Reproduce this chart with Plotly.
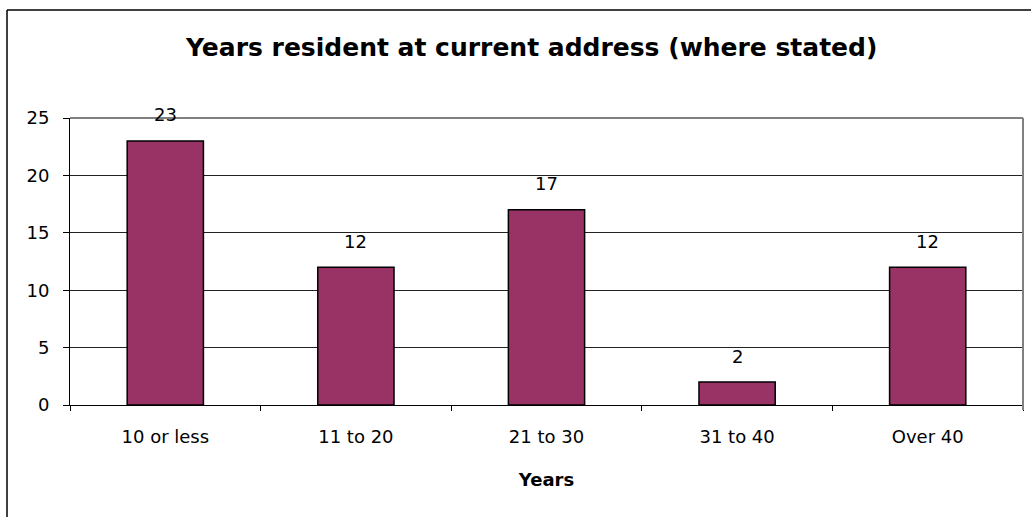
import plotly.graph_objects as go

categories = ["10 or less", "11 to 20", "21 to 30", "31 to 40", "Over 40"]
values = [23, 12, 17, 2, 12]
y_ticks = [0, 5, 10, 15, 20, 25]

W, H = 1031, 517
L, R, T, B = 70, 8, 118, 112
pw, ph = W - L - R, H - T - B

def px(x):
    return (x - L) / pw

def py(y):
    return (H - B - y) / ph

FONT = "DejaVu Sans, Arial, sans-serif"

fig = go.Figure(go.Bar(
    x=categories, y=values, width=0.4,
    marker=dict(color="#993366", line=dict(color="#000000", width=1.5)),
    hoverinfo="skip",
))

annotations = [
    dict(x=c, y=v, xref="x", yref="y", text=str(v), showarrow=False,
         yanchor="middle", yshift=26, font=dict(size=18, color="#000000", family=FONT))
    for c, v in zip(categories, values)
]
annotations.append(dict(x=px(531), y=py(47), xref="paper", yref="paper",
                        text="<b>Years resident at current address (where stated)</b>",
                        showarrow=False, xanchor="center", yanchor="middle",
                        font=dict(size=25, color="#000000", family=FONT)))

shapes = [
    # outer chart frame (left and top)
    dict(type="line", xref="paper", yref="paper", x0=px(7), x1=px(7), y0=py(10), y1=py(530),
         line=dict(color="#000000", width=1.5)),
    dict(type="line", xref="paper", yref="paper", x0=px(7), x1=px(1040), y0=py(10), y1=py(10),
         line=dict(color="#000000", width=1.5)),
    # plot area border top/right
    dict(type="line", xref="paper", yref="paper", x0=0, x1=1, y0=1, y1=1,
         line=dict(color="#808080", width=2)),
    dict(type="line", xref="paper", yref="paper", x0=1, x1=1, y0=py(410), y1=1,
         line=dict(color="#808080", width=2)),
]

fig.update_layout(
    width=W, height=H,
    margin=dict(l=L, r=R, t=T, b=B),
    paper_bgcolor="#ffffff", plot_bgcolor="#ffffff",
    showlegend=False,
    annotations=annotations,
    shapes=shapes,
    font=dict(family=FONT, size=18, color="#000000"),
)
fig.update_xaxes(
    showline=True, linecolor="#000000", linewidth=1,
    ticks="outside", tickson="boundaries", ticklen=5, tickcolor="#000000",
    ticklabelstandoff=15,
    tickfont=dict(size=18, family=FONT, color="#000000"),
    showgrid=False,
    title=dict(text="<b>Years</b>", font=dict(size=18, family=FONT, color="#000000"), standoff=27),
)
fig.update_yaxes(
    range=[0, 25], tickvals=y_ticks,
    showline=True, linecolor="#000000", linewidth=1,
    ticks="outside", ticklen=6, tickcolor="#000000",
    ticklabelstandoff=10,
    tickfont=dict(size=18, family=FONT, color="#000000"),
    showgrid=True, gridcolor="#222222", gridwidth=1,
    zeroline=False,
)

fig.write_html(
    "out.html",
    config={"displayModeBar": False},
    post_script="document.body.style.margin='0';document.body.style.overflow='hidden';",
)
